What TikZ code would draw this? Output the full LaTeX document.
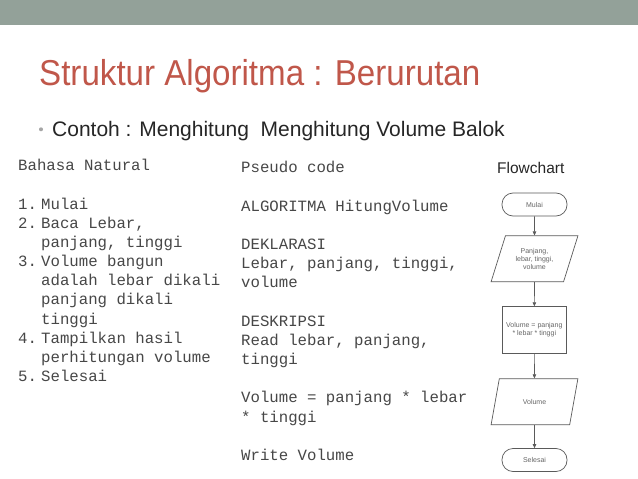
\documentclass[tikz,border=0pt]{standalone}
\usepackage{fontspec}
\setmainfont{Liberation Sans}
\newfontfamily\judulfont[FakeStretch=0.92]{Liberation Sans}
\newfontfamily\monofont{Liberation Mono}
\usetikzlibrary{shapes.geometric, arrows.meta, positioning}
\definecolor{barcolor}{HTML}{93A199}
\definecolor{judulred}{HTML}{C0574A}
\definecolor{bodytext}{HTML}{262626}
\definecolor{monotext}{HTML}{474747}
\definecolor{flowline}{HTML}{5A5A5A}
\definecolor{flowtext}{HTML}{666666}

\begin{document}
\begin{tikzpicture}[x=1pt, y=-1pt,
    judul/.style={
        font=\judulfont\fontsize{36}{40}\selectfont, text=judulred,
        anchor=base west, inner sep=0pt
    },
    isi/.style={
        font=\fontsize{21}{25}\selectfont, text=bodytext,
        anchor=base west, inner sep=0pt
    },
    mono/.style={
        font=\monofont\fontsize{15.7}{19.2}\selectfont, text=monotext,
        anchor=base west, inner sep=0pt
    },
    terminal/.style={
        draw=flowline, line width=0.7pt, rounded corners=11pt,
        minimum width=65pt, minimum height=23pt,
        font=\fontsize{7}{8.3}\selectfont, text=flowtext, inner sep=1pt
    },
    io/.style={
        draw=flowline, line width=0.7pt, trapezium,
        trapezium left angle=67.5, trapezium right angle=112.5,
        trapezium stretches=true, minimum width=87pt, minimum height=46pt,
        font=\fontsize{7}{8.3}\selectfont, text=flowtext, align=center, inner sep=1pt
    },
    proses/.style={
        draw=flowline, line width=0.7pt,
        minimum width=64pt, minimum height=46.7pt,
        font=\fontsize{7}{8.3}\selectfont, text=flowtext, align=center, inner sep=1pt
    },
    flowarrow/.style={-{Triangle[length=4pt, width=3.5pt]}, line width=0.7pt, color=flowline}
]

% Page and top bar
\useasboundingbox (0,0) rectangle (638,479);
\fill[white] (0,0) rectangle (638,479);
\fill[barcolor] (0,0) rectangle (638,25);

% Title and bullet
\node[judul] (judul) at (39,85) {Struktur Algoritma : Berurutan};
\node[circle, fill=black!35, inner sep=0pt, minimum size=4pt] (titik) at (41,129.3) {};
\node[isi] (contoh) at (52,136.5) {Contoh : Menghitung\ \ Menghitung Volume Balok};

% Bahasa natural
\node[mono] (natural0) at (18,170.7) {Bahasa Natural};
\foreach \n/\k in {1/2, 2/3, 3/5, 4/9, 5/11}
    \node[mono] (nomor\n) at (18, 170.7+19.18*\k) {\n.};
\foreach \k/\t in {2/Mulai, 3/{Baca Lebar,}, 4/{panjang, tinggi}, 5/Volume bangun,
                   6/adalah lebar dikali, 7/panjang dikali, 8/tinggi,
                   9/Tampilkan hasil, 10/perhitungan volume, 11/Selesai}
    \node[mono] (natural\k) at (41, 170.7+19.18*\k) {\t};

% Pseudo code
\foreach \k/\t in {0/Pseudo code, 2/ALGORITMA HitungVolume, 4/DEKLARASI,
                   5/{Lebar, panjang, tinggi,}, 6/volume, 8/DESKRIPSI,
                   9/{Read lebar, panjang,}, 10/tinggi, 12/Volume = panjang * lebar,
                   13/* tinggi, 15/Write Volume}
    \node[mono] (pseudo\k) at (241, 172.8+19.18*\k) {\t};

% Flowchart
\node[anchor=base west, inner sep=0pt, font=\fontsize{15.5}{18}\selectfont, text=bodytext] (flowjudul) at (497,173.3) {Flowchart};
\node[terminal] (mulai) at (534.5,204.5) {Mulai};
\node[io] (baca) at (534.5,258.8) {Panjang,\\lebar, tinggi,\\volume};
\node[proses] (hitung) at (534.3,330) {Volume = panjang\\* lebar * tinggi};
\node[io] (tulis) at (534.5,401.7) {Volume};
\node[terminal] (selesai) at (534.5,460) {Selesai};

\draw[flowarrow] (mulai) -- (baca);
\draw[flowarrow] (baca) -- (hitung);
\draw[flowarrow] (hitung) -- (tulis);
\draw[flowarrow] (tulis) -- (selesai);

\end{tikzpicture}
\end{document}
